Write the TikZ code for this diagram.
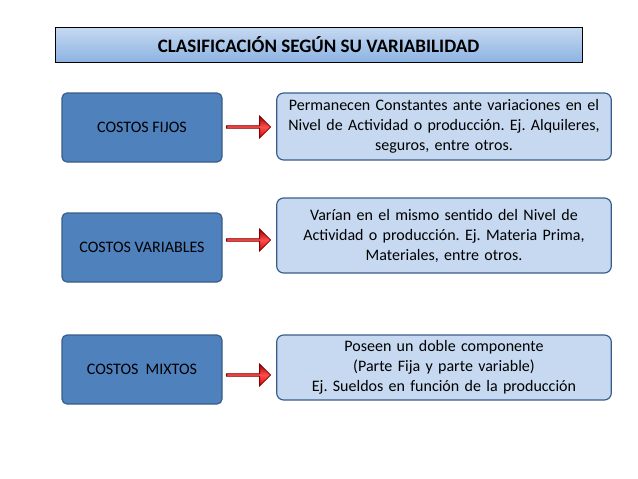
\documentclass[tikz,border=0pt]{standalone}
\usepackage{fontspec}
\setmainfont{Carlito}
\usetikzlibrary{shapes.arrows}
\definecolor{dk}{HTML}{4F81BD}
\definecolor{dkb}{HTML}{385D8A}
\definecolor{lt}{HTML}{C6D9F1}
\definecolor{tl}{HTML}{8DB3E2}
\frenchspacing
\tikzset{
 leftbox/.style={draw=dkb,line width=1.2pt,fill=dk,rounded corners=5pt,minimum width=160pt,minimum height=69pt,font=\fontsize{16}{18}\selectfont,text=black},
 rightbox/.style={draw=dkb,line width=1.2pt,fill=lt,rounded corners=7pt,minimum width=332pt,text width=328pt,align=center,font=\fontsize{16}{20}\selectfont},
 arr/.style={single arrow,draw=red!50!black,line width=0.8pt,minimum width=22pt,single arrow head extend=3pt,minimum height=44pt,inner sep=0pt,shading=axis,top color=red!60!black,bottom color=red!85!black,middle color=red!70},
}
\begin{document}
\begin{tikzpicture}[x=1pt,y=-1pt]
\useasboundingbox (0,0) rectangle (638,479);
\node[draw=black,line width=0.6pt,minimum width=527pt,minimum height=35pt,top color=lt,bottom color=tl,font=\bfseries\fontsize{19}{21}\selectfont] (t) at (318.5,44.5) {CLASIFICACIÓN SEGÚN SU VARIABILIDAD};
\node[leftbox] (l1) at (142,127.5) {COSTOS FIJOS};
\node[leftbox] (l2) at (142,247.5) {COSTOS VARIABLES};
\node[leftbox] (l3) at (142,369.5) {COSTOS \ MIXTOS};
\node[rightbox,minimum height=67pt] (r1) at (444,126.5) {Permanecen Constantes ante variaciones en el\\Nivel de Actividad o producción. Ej. Alquileres,\\seguros, entre otros.};
\node[rightbox,minimum height=75pt] (r2) at (444,235.5) {Varían en el mismo sentido del Nivel de\\Actividad o producción. Ej. Materia Prima,\\Materiales, entre otros.};
\node[rightbox,minimum height=65pt] (r3) at (444,367.5) {Poseen un doble componente\\(Parte Fija y parte variable)\\Ej. Sueldos en función de la producción};
\node[arr] (a1) at (248,127) {};
\node[arr] (a2) at (248,240) {};
\node[arr] (a3) at (248,375) {};
\end{tikzpicture}
\end{document}
